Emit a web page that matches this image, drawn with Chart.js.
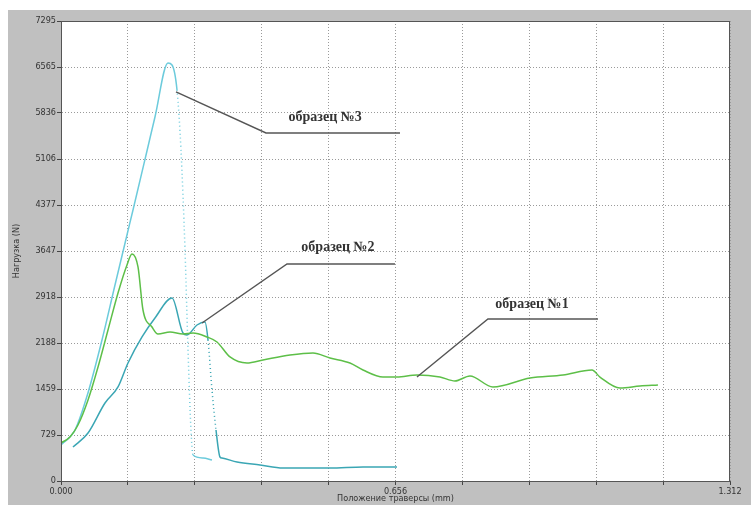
<!DOCTYPE html>
<html>
<head>
<meta charset="utf-8">
<script src="https://cdn.jsdelivr.net/npm/chart.js@4/dist/chart.umd.min.js"></script>
<style>
html,body{margin:0;padding:0;background:#fff;}
canvas{display:block;}
</style>
</head>
<body>
<canvas id="c" width="751" height="505"></canvas>
<script>
// ---- Data (x: crosshead position, mm; y: load, N) ----
const s1X = [0, 0.0176, 0.0333, 0.053, 0.0726, 0.0922, 0.1118, 0.1294, 0.1392, 0.151, 0.1608, 0.1785, 0.1902, 0.2138, 0.2392, 0.2589, 0.2863, 0.3059, 0.3314, 0.3647, 0.3961, 0.4491, 0.4942, 0.5275, 0.5667, 0.5923, 0.6315, 0.6589, 0.6981, 0.7432, 0.7726, 0.8020, 0.8471, 0.9197, 0.9844, 1.0413, 1.057, 1.0962, 1.1354, 1.1707];
const s1Y = [603, 698, 888, 1285, 1808, 2395, 2982, 3426, 3600, 3394, 2712, 2442, 2331, 2363, 2331, 2347, 2284, 2205, 1967, 1871, 1919, 1998, 2030, 1951, 1871, 1760, 1649, 1649, 1681, 1649, 1586, 1665, 1491, 1634, 1681, 1760, 1649, 1475, 1507, 1523];

const s2X = [0.0235, 0.053, 0.0863, 0.1118, 0.1314, 0.1589, 0.1843, 0.2177, 0.2392, 0.2471, 0.2667, 0.2824, 0.2883, 0.2961, 0.304, 0.3118, 0.3157, 0.3452, 0.3903, 0.4354, 0.4824, 0.5275, 0.5923, 0.6589];
const s2Y = [539, 761, 1237, 1491, 1871, 2284, 2585, 2902, 2347, 2316, 2474, 2522, 2236, 1443, 809, 381, 365, 301, 254, 206, 206, 206, 222, 222];

const s3X = [0, 0.0275, 0.053, 0.0804, 0.1059, 0.1294, 0.1412, 0.1686, 0.1843, 0.2098, 0.2177, 0.2275, 0.2353, 0.2432, 0.2491, 0.2549, 0.2589, 0.2785, 0.2961];
const s3Y = [571, 809, 1400, 2236, 3109, 3902, 4298, 5234, 5773, 6629, 6598, 6201, 5250, 3664, 2078, 809, 412, 365, 333];

// Annotation leaders (data units) and labels
const labelNames = ['образец №3', 'образец №2', 'образец №1'];
const labelX = [0.518, 0.5432, 0.9237];
const labelY = [5773, 3711, 2807];
const lead3X = [0.2255, 0.402, 0.6648];
const lead3Y = [6170, 5519, 5519];
const lead2X = [0.2765, 0.4432, 0.655];
const lead2Y = [2506, 3442, 3442];
const lead1X = [0.6981, 0.8373, 1.0531];
const lead1Y = [1649, 2569, 2569];

// Axis ticks
const xTickValues = [0, 0.1312, 0.2624, 0.3936, 0.5248, 0.656, 0.7872, 0.9184, 1.0496, 1.1808, 1.312];
const xTickLabels = ['0.000', '', '', '', '', '0.656', '', '', '', '', '1.312'];
const yTickValues = [0, 729.5, 1459, 2188.5, 2918, 3647.5, 4377, 5106.5, 5836, 6565.5, 7295];
const yTickLabels = ['0', '729', '1459', '2188', '2918', '3647', '4377', '5106', '5836', '6565', '7295'];

const xTitle = 'Положение траверсы (mm)';
const yTitle = 'Нагрузка (N)';

const zip = (xs, ys) => xs.map((x, i) => ({x: x, y: ys[i]}));

const narrow = "'Liberation Sans Narrow', 'DejaVu Sans Condensed', 'Liberation Sans', sans-serif";

const steepDash = ctx => {
  const dx = ctx.p1.x - ctx.p0.x;
  const dy = ctx.p1.y - ctx.p0.y;
  return (dy > 0 && dx > 0 && dy / dx > 9.5) ? [1, 3] : undefined;
};

const curve = (data, color) => ({
  data: data, borderColor: color, borderWidth: 1.5, pointRadius: 0,
  cubicInterpolationMode: 'monotone', fill: false,
  segment: { borderDash: steepDash }
});
const leader = (data) => ({
  data: data, borderColor: '#555555', borderWidth: 1.4, pointRadius: 0, tension: 0, fill: false
});

const bgPlugin = {
  id: 'bg',
  beforeDraw(chart) {
    const ctx = chart.ctx, a = chart.chartArea;
    ctx.save();
    ctx.fillStyle = '#ffffff';
    ctx.fillRect(0, 0, chart.width, chart.height);
    ctx.fillStyle = '#c0c0c0';
    ctx.fillRect(8, 10, chart.width - 8, chart.height - 10);
    ctx.fillStyle = '#ffffff';
    ctx.fillRect(a.left, a.top, a.right - a.left, a.bottom - a.top);
    ctx.restore();
  },
  afterDraw(chart) {
    const ctx = chart.ctx, a = chart.chartArea;
    ctx.save();
    ctx.strokeStyle = '#555555';
    ctx.lineWidth = 1;
    ctx.strokeRect(a.left + 0.5, a.top + 0.5, a.right - a.left - 1, a.bottom - a.top);
    ctx.restore();
  }
};

const labelPlugin = {
  id: 'labels',
  afterDatasetsDraw(chart) {
    const ctx = chart.ctx, xs = chart.scales.x, ys = chart.scales.y;
    ctx.save();
    ctx.font = "bold 14px 'Liberation Serif', 'DejaVu Serif', serif";
    ctx.fillStyle = '#333333';
    ctx.textAlign = 'center';
    ctx.textBaseline = 'middle';
    labelNames.forEach((t, i) => {
      ctx.fillText(t, xs.getPixelForValue(labelX[i]), ys.getPixelForValue(labelY[i]));
    });
    ctx.restore();
  }
};

new Chart(document.getElementById('c'), {
  type: 'line',
  data: {
    datasets: [
      leader(zip(lead3X, lead3Y)),
      leader(zip(lead2X, lead2Y)),
      leader(zip(lead1X, lead1Y)),
      curve(zip(s1X, s1Y), '#5dbf48'),
      curve(zip(s2X, s2Y), '#3aa6b4'),
      curve(zip(s3X, s3Y), '#6ccbdc')
    ]
  },
  options: {
    responsive: false,
    animation: false,
    devicePixelRatio: 1,
    layout: { padding: { left: 0, top: 21, right: 21, bottom: 0 } },
    plugins: { legend: { display: false }, tooltip: { enabled: false } },
    scales: {
      x: {
        type: 'linear', min: 0, max: 1.312,
        afterBuildTicks: s => { s.ticks = xTickValues.map(v => ({value: v})); },
        afterFit: s => { s.height = 24; },
        grid: { color: '#9a9a9a', tickColor: '#444444', tickLength: 4, lineWidth: 1 },
        border: { display: true, color: '#555555', width: 1, dash: [1, 2] },
        ticks: {
          autoSkip: false, maxRotation: 0, padding: 1, color: '#333333',
          font: { family: narrow, size: 9 },
          callback: (v, i) => xTickLabels[i]
        },
        title: {
          display: true, text: xTitle, color: '#333333',
          font: { family: narrow, size: 9 }, padding: { top: 0, bottom: 1 }
        }
      },
      y: {
        type: 'linear', min: 0, max: 7295,
        afterBuildTicks: s => { s.ticks = yTickValues.map(v => ({value: v})); },
        afterFit: s => { s.width = 61; },
        grid: { color: '#9a9a9a', tickColor: '#444444', tickLength: 4, lineWidth: 1 },
        border: { display: true, color: '#555555', width: 1, dash: [1, 2] },
        ticks: {
          autoSkip: false, padding: 1, color: '#333333',
          font: { family: narrow, size: 9 },
          callback: (v, i) => yTickLabels[i]
        },
        title: {
          display: true, text: yTitle, color: '#333333',
          font: { family: narrow, size: 9 }, padding: { top: 11, bottom: 0 }
        }
      }
    }
  },
  plugins: [bgPlugin, labelPlugin]
});
</script>
</body>
</html>
